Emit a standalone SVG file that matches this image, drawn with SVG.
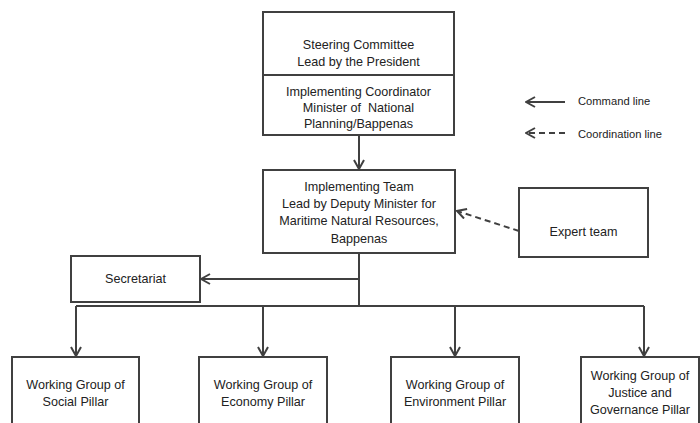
<svg xmlns="http://www.w3.org/2000/svg" width="700" height="423" viewBox="0 0 700 423">
<style>
.box{fill:#fff;stroke:#404040;stroke-width:2}
.t{font-family:"Liberation Sans",Arial,sans-serif;font-size:12.6px;fill:#222;text-anchor:middle}
.lt{font-family:"Liberation Sans",Arial,sans-serif;font-size:11.2px;fill:#222}
.c{fill:none;stroke:#404040;stroke-width:2}
.d{fill:none;stroke:#404040;stroke-width:2;stroke-dasharray:6,4}
</style>
<defs>
<marker id="ah2" viewBox="0 0 12 12" refX="11" refY="6" markerWidth="12" markerHeight="12" markerUnits="userSpaceOnUse" orient="auto">
<path d="M2,1 L11,6 L2,11" fill="none" stroke="#404040" stroke-width="2"/>
</marker>
</defs>
<rect width="700" height="423" fill="#fff"/>
<g id="connectors">
<line class="c" x1="359" y1="135" x2="359" y2="169" marker-end="url(#ah2)"/>
<line class="d" x1="519" y1="231" x2="457" y2="211" marker-end="url(#ah2)"/>
<polyline class="c" points="359,253 359,306"/>
<line class="c" x1="359" y1="279" x2="201" y2="279" marker-end="url(#ah2)"/>
<polyline class="c" points="76,306 644,306"/>
<line class="c" x1="76" y1="306" x2="76" y2="356" marker-end="url(#ah2)"/>
<line class="c" x1="263" y1="306" x2="263" y2="356" marker-end="url(#ah2)"/>
<line class="c" x1="455" y1="306" x2="455" y2="356" marker-end="url(#ah2)"/>
<line class="c" x1="644" y1="306" x2="644" y2="356" marker-end="url(#ah2)"/>
</g>
<g id="legend">
<line class="c" x1="565" y1="102" x2="526" y2="102" marker-end="url(#ah2)"/>
<text class="lt" x="578" y="105">Command line</text>
<line class="d" x1="565" y1="133" x2="526" y2="133" stroke-dasharray="5,3" marker-end="url(#ah2)"/>
<text class="lt" x="578" y="138">Coordination line</text>
</g>
<g id="steering">
<rect class="box" x="263" y="12" width="191" height="63"/>
<text class="t" x="358.5" y="49">Steering Committee</text>
<text class="t" x="358.5" y="66">Lead by the President</text>
</g>
<g id="coordinator">
<rect class="box" x="263" y="75" width="191" height="60"/>
<text class="t" x="358.5" y="96">Implementing Coordinator</text>
<text class="t" x="358.5" y="112" xml:space="preserve">Minister of  National</text>
<text class="t" x="358.5" y="128">Planning/Bappenas</text>
</g>
<g id="team">
<rect class="box" x="263" y="170" width="192" height="83"/>
<text class="t" x="359" y="191">Implementing Team</text>
<text class="t" x="359" y="208">Lead by Deputy Minister for</text>
<text class="t" x="359" y="225">Maritime Natural Resources,</text>
<text class="t" x="359" y="243">Bappenas</text>
</g>
<g id="expert">
<rect class="box" x="519" y="188" width="129" height="69"/>
<text class="t" x="583.5" y="236">Expert team</text>
</g>
<g id="secretariat">
<rect class="box" x="71" y="256" width="129" height="46"/>
<text class="t" x="135.5" y="283">Secretariat</text>
</g>
<g id="social">
<rect class="box" x="12" y="357" width="127" height="70"/>
<text class="t" x="75.5" y="389">Working Group of</text>
<text class="t" x="75.5" y="406">Social Pillar</text>
</g>
<g id="economy">
<rect class="box" x="199" y="357" width="128" height="70"/>
<text class="t" x="263" y="389">Working Group of</text>
<text class="t" x="263" y="406">Economy Pillar</text>
</g>
<g id="environment">
<rect class="box" x="391" y="357" width="128" height="70"/>
<text class="t" x="455" y="389">Working Group of</text>
<text class="t" x="455" y="406">Environment Pillar</text>
</g>
<g id="justice">
<rect class="box" x="581" y="357" width="118" height="70"/>
<text class="t" x="640" y="380">Working Group of</text>
<text class="t" x="640" y="397">Justice and</text>
<text class="t" x="640" y="414">Governance Pillar</text>
</g>
</svg>
